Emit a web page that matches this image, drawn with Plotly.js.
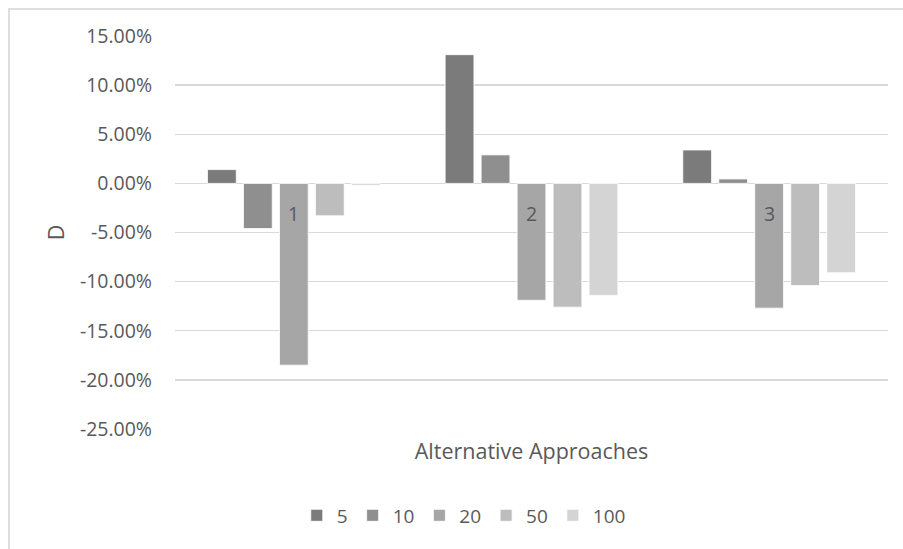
<!DOCTYPE html>
<html>
<head>
<meta charset="utf-8">
<script src="https://cdn.plot.ly/plotly-3.0.1.min.js"></script>
<style>
  html, body { margin: 0; padding: 0; background: #ffffff; }
  #chart { width: 903px; height: 549px; }
  #frame { position: absolute; left: 8px; top: 8px; width: 1000px; height: 700px;
           border: 2px solid #dedede; pointer-events: none; z-index: 5; }
</style>
</head>
<body>
<div id="chart"></div>
<div id="frame"></div>
<script>
// ---- data ----
const categories = ['1', '2', '3'];
const seriesNames = ['5', '10', '20', '50', '100'];
const s5   = [0.014, 0.131, 0.034];
const s10  = [-0.046, 0.029, 0.0045];
const s20  = [-0.185, -0.119, -0.127];
const s50  = [-0.033, -0.126, -0.104];
const s100 = [-0.002, -0.114, -0.091];
const tickVals = [0.15, 0.10, 0.05, 0, -0.05, -0.10, -0.15, -0.20, -0.25];
const tickText = ['15.00%', '10.00%', '5.00%', '0.00%', '-5.00%', '-10.00%', '-15.00%', '-20.00%', '-25.00%'];
const xTitle = 'Alternative Approaches';
const yTitle = 'D';

// ---- styles ----
const colors = ['#7b7b7b', '#8f8f8f', '#a6a6a6', '#bdbdbd', '#d4d4d4'];
const fontFamily = '"Open Sans", "Noto Sans", sans-serif';
const textColor = '#595959';
const tickSize = 19.5;
const titleSize = 21.5;

const seriesValues = [s5, s10, s20, s50, s100];
const traces = seriesValues.map((vals, i) => ({
  type: 'bar',
  name: seriesNames[i],
  x: categories,
  y: vals,
  marker: { color: colors[i], line: { color: '#ffffff', width: 0.8 } },
  hoverinfo: 'none'
}));

// category labels drawn at the zero line (Excel-style), using category index
const annotations = categories.map((c, i) => ({
  x: i, y: 0, xref: 'x', yref: 'y',
  text: c, showarrow: false,
  yanchor: 'top', yshift: -15,
  font: { family: fontFamily, size: tickSize, color: textColor }
}));

const layout = {
  width: 903, height: 549,
  margin: { l: 175, r: 15, t: 36, b: 120, pad: 0 },
  paper_bgcolor: '#ffffff',
  plot_bgcolor: '#ffffff',
  barmode: 'group',
  bargap: 0.243,
  bargroupgap: 0.2,
  font: { family: fontFamily, size: tickSize, color: textColor },
  showlegend: true,
  legend: {
    orientation: 'h', x: 0.405, xanchor: 'center', y: -0.22, yanchor: 'middle',
    font: { family: fontFamily, size: 19, color: textColor },
    itemwidth: 30, traceorder: 'normal', itemclick: false
  },
  xaxis: {
    type: 'category',
    range: [-0.5, categories.length - 0.5],
    showticklabels: false,
    showgrid: false, zeroline: false, showline: false, ticks: '',
    title: { text: xTitle, standoff: 14, font: { family: fontFamily, size: titleSize, color: textColor } },
    automargin: false, fixedrange: true
  },
  yaxis: {
    range: [-0.25, 0.15],
    tickmode: 'array', tickvals: tickVals, ticktext: tickText,
    showgrid: true, gridcolor: '#d9d9d9', gridwidth: 1.3,
    zeroline: false, showline: false, ticks: '',
    ticklabelstandoff: 22,
    tickfont: { family: fontFamily, size: tickSize, color: textColor },
    title: { text: yTitle, standoff: 9, font: { family: fontFamily, size: titleSize, color: textColor } },
    automargin: false, fixedrange: true
  },
  annotations: annotations
};

Plotly.newPlot('chart', traces, layout, { displayModeBar: false, staticPlot: true });
</script>
</body>
</html>
